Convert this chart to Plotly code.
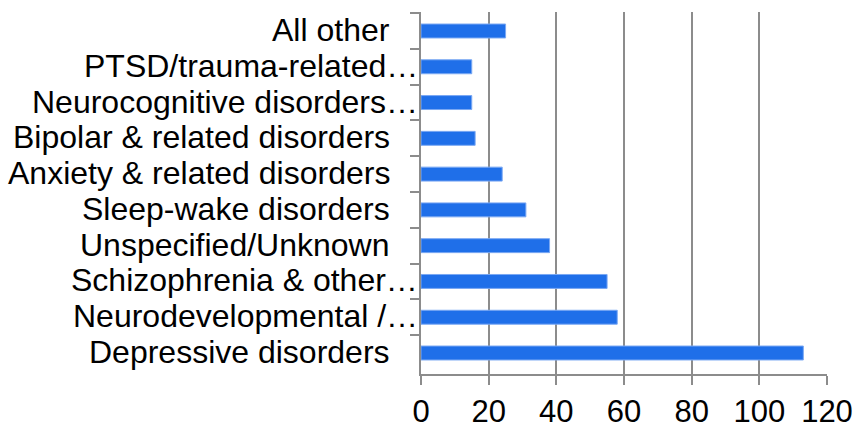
import plotly.graph_objects as go

categories = [
    'All other',
    'PTSD/trauma-related…',
    'Neurocognitive disorders…',
    'Bipolar & related disorders',
    'Anxiety & related disorders',
    'Sleep-wake disorders',
    'Unspecified/Unknown',
    'Schizophrenia & other…',
    'Neurodevelopmental /…',
    'Depressive disorders',
]
counts = [25, 15, 15, 16, 24, 31, 38, 55, 58, 113]
x_ticks = [0, 20, 40, 60, 80, 100, 120]

GRID = '#8c8c8c'
FONT = 'Liberation Sans, Arial, sans-serif'

fig = go.Figure()
fig.add_trace(go.Bar(
    x=counts,
    y=categories,
    orientation='h',
    marker_color='#1f6fe9',
    marker_line_color='#7aa8f3',
    marker_line_width=1,
    hovertemplate="<b>%{y}</b><br>%{x}<extra></extra>",
))

# category labels as annotations: truncated ones run right up to the axis
for cat in categories:
    fig.add_annotation(
        x=0, y=cat, xref='x', yref='y',
        text=cat, showarrow=False,
        xanchor='right', yanchor='middle',
        xshift=-1 if cat.endswith('…') else -29,
        yshift=1,
        font=dict(family=FONT, size=32, color='black'),
    )

fig.update_layout(
    width=857, height=426,
    margin=dict(l=421, r=30, t=12, b=52),
    plot_bgcolor='white',
    paper_bgcolor='white',
    showlegend=False,
    bargap=0.61,
    font=dict(family=FONT, size=32, color='black'),
    xaxis=dict(
        range=[0, 120],
        tickvals=x_ticks,
        automargin=False,
        showgrid=True, gridcolor=GRID, gridwidth=2,
        showline=True, linecolor=GRID, linewidth=2,
        ticks='outside', ticklen=9, tickwidth=2, tickcolor=GRID,
        zeroline=False,
        tickfont=dict(family=FONT, size=31, color='black'),
    ),
    yaxis=dict(
        autorange='reversed',
        automargin=False,
        showgrid=False,
        showline=True, linecolor=GRID, linewidth=2,
        ticks='outside', tickson='boundaries', ticklen=9, tickwidth=2, tickcolor=GRID,
        showticklabels=False,
    ),
)

# drop the default 8px page margin so the figure sits at the window corner
fig.write_html(
    "out.html",
    config={'displayModeBar': False},
    post_script="document.body.style.margin='0';",
)
